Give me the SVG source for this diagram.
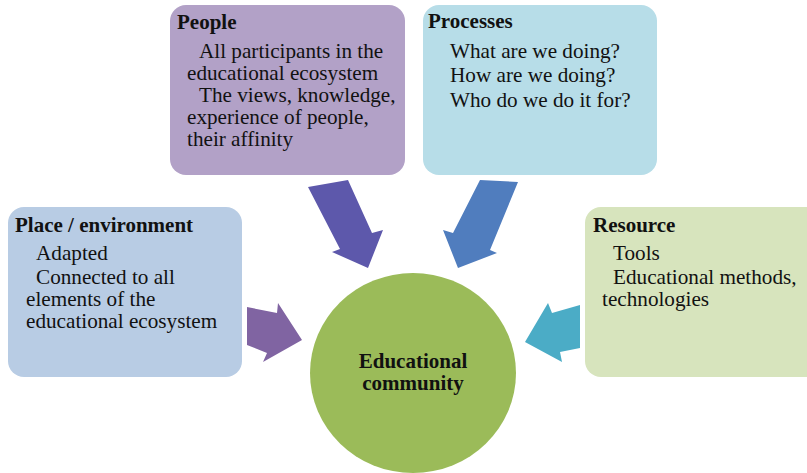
<svg xmlns="http://www.w3.org/2000/svg" width="807" height="473" viewBox="0 0 807 473">
<style>
text{font-family:'Liberation Serif','Times New Roman',serif;font-size:21.2px;fill:#111}
.t{font-weight:bold;font-size:21px}
.c{font-weight:bold;font-size:21px;text-anchor:middle}
</style>
<rect width="807" height="473" fill="#ffffff"/>
<g id="connectors">
<polygon id="arrow-people" points="308,187 348,180 372,233 383,230 368,268 332,252 340,249" fill="#5D58AB"/>
<polygon id="arrow-processes" points="480,180 518,182 490,250 497,253 458,268 443,230 453,233" fill="#507DBE"/>
<polygon id="arrow-place" points="247,307 277,313 278,303 302,340 263,362 267,353 247,345" fill="#8064A2"/>
<polygon id="arrow-resource" points="580,305 552,313 548,303 525,342 562,362 560,352 580,348" fill="#4BACC6"/>
</g>
<g id="people">
<rect x="170" y="5" width="235" height="170" rx="16" fill="#B2A1C7"/>
<text class="t" x="177" y="29">People</text>
<text x="199" y="58">All participants in the</text>
<text x="187" y="80">educational ecosystem</text>
<text x="199" y="102">The views, knowledge,</text>
<text x="187" y="124">experience of people,</text>
<text x="187" y="146">their affinity</text>
</g>
<g id="processes">
<rect x="423" y="5" width="234" height="170" rx="16" fill="#B7DDE8"/>
<text class="t" x="428" y="28">Processes</text>
<text x="450" y="58">What are we doing?</text>
<text x="450" y="82">How are we doing?</text>
<text x="450" y="107">Who do we do it for?</text>
</g>
<g id="place">
<rect x="8" y="207" width="234" height="170" rx="16" fill="#B8CCE4"/>
<text class="t" x="15" y="232">Place / environment</text>
<text x="36" y="260">Adapted</text>
<text x="36" y="284">Connected to all</text>
<text x="26" y="306">elements of the</text>
<text x="26" y="328">educational ecosystem</text>
</g>
<g id="resource">
<rect x="585" y="207" width="240" height="170" rx="16" fill="#D7E4BD"/>
<text class="t" x="593" y="232">Resource</text>
<text x="613" y="260">Tools</text>
<text x="613" y="284">Educational methods,</text>
<text x="602" y="306">technologies</text>
</g>
<g id="community">
<ellipse cx="413" cy="373" rx="103" ry="100" fill="#9BBB59"/>
<text class="c" x="413" y="368">Educational</text>
<text class="c" x="413" y="390">community</text>
</g>
</svg>
